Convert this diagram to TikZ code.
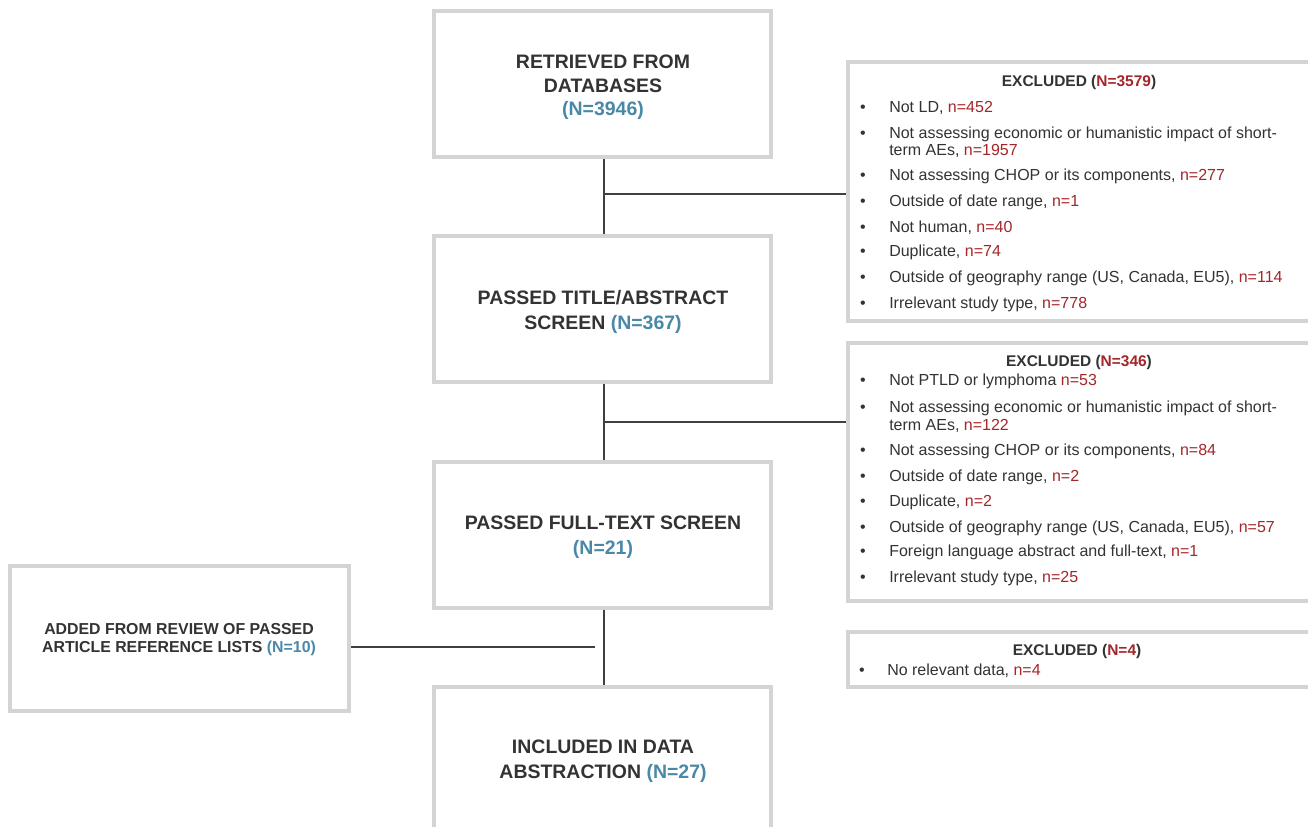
\documentclass[tikz,border=0pt]{standalone}
\usepackage{fontspec}
\setmainfont{Liberation Sans}
\definecolor{txt}{HTML}{333333}
\definecolor{nblue}{HTML}{4A88A8}
\definecolor{nred}{HTML}{A3262A}
\definecolor{boxgray}{HTML}{D4D4D4}
\definecolor{linecol}{HTML}{404040}
\newcommand\NBlue[1]{\textcolor{nblue}{#1}}
\newcommand\NRed[1]{\textcolor{nred}{#1}}
\begin{document}
\begin{tikzpicture}[x=0.75pt,y=-0.75pt,
  mainbox/.style={draw=boxgray, line width=3pt, fill=white, inner sep=0pt, minimum width=252.75pt, minimum height=109.5pt},
  exbox/.style={draw=boxgray, line width=3pt, fill=white, inner sep=0pt, minimum width=346.5pt},
  conn/.style={draw=linecol, line width=1.4pt},
  maintxt/.style={anchor=base, text=txt, font=\fontsize{14.6}{17}\selectfont\bfseries, inner sep=0pt},
  addtxt/.style={anchor=base, text=txt, font=\fontsize{11.9}{13}\selectfont\bfseries, inner sep=0pt},
  extitle/.style={anchor=base, text=txt, font=\fontsize{11.6}{13}\selectfont\bfseries, inner sep=0pt},
  item/.style={anchor=base west, text=txt, font=\fontsize{12}{13}\selectfont, inner sep=0pt},
  bul/.style={anchor=base, text=txt, font=\fontsize{12}{13}\selectfont, inner sep=0pt}
]
\useasboundingbox (0,0) rectangle (1308,826);

% main boxes
\node[mainbox] (b1) at (602.5,84) {};
\node[mainbox] (b2) at (602.5,308.5) {};
\node[mainbox] (b3) at (602.5,534.5) {};
\node[mainbox] (b4) at (602.5,760) {};
\node[draw=boxgray, line width=3pt, fill=white, inner sep=0pt, minimum width=254.25pt, minimum height=108.75pt] (add) at (179.5,638.5) {};

% exclusion boxes
\node[exbox, minimum height=194.25pt] (ex1) at (1079,191.5) {};
\node[exbox, minimum height=193.5pt] (ex2) at (1079,472) {};
\node[exbox, minimum height=41.25pt] (ex3) at (1079,659.5) {};

% connectors
\coordinate (j1) at (604,194);
\coordinate (j2) at (604,422);
\coordinate (j3) at (595,647);
\draw[conn] (b1.south -| j1) -- (b2.north -| j1);
\draw[conn] (b2.south -| j1) -- (b3.north -| j1);
\draw[conn] (b3.south -| j1) -- (b4.north -| j1);
\draw[conn] (j1) -- (j1 -| ex1.west);
\draw[conn] (j2) -- (j2 -| ex2.west);
\draw[conn] (j3 -| add.east) -- (j3);

% main texts
\node[maintxt] (t1a) at (603,68) {RETRIEVED FROM};
\node[maintxt] (t1b) at (603,92) {DATABASES};
\node[maintxt] (t1c) at (603,115) {\NBlue{(N=3946)}};
\node[maintxt] (t2a) at (603,304) {PASSED TITLE/ABSTRACT};
\node[maintxt] (t2b) at (603,329) {SCREEN \NBlue{(N=367)}};
\node[maintxt] (t3a) at (603,529) {PASSED FULL-TEXT SCREEN};
\node[maintxt] (t3b) at (603,554) {\NBlue{(N=21)}};
\node[maintxt] (t4a) at (603,753) {INCLUDED IN DATA};
\node[maintxt] (t4b) at (603,778) {ABSTRACTION \NBlue{(N=27)}};
\node[addtxt] (ta) at (179,634) {ADDED FROM REVIEW OF PASSED};
\node[addtxt] (tb) at (179,652.5) {ARTICLE REFERENCE LISTS \NBlue{(N=10)}};

% exclusion 1
\node[extitle] (x1t) at (1079,86) {EXCLUDED (\NRed{N=3579})};
\foreach \yy in {112,138,180,206,232,256,282,308}
  \node[bul] at (863,\yy) {•};
\node[item] (x1a) at (889,112) {Not LD, \NRed{n=452}};
\node[item] (x1b) at (889,138) {Not assessing economic or humanistic impact of short-};
\node[item] (x1c) at (889,155) {term AEs, \NRed{n=1957}};
\node[item] (x1d) at (889,180) {Not assessing CHOP or its components, \NRed{n=277}};
\node[item] (x1e) at (889,206) {Outside of date range, \NRed{n=1}};
\node[item] (x1f) at (889,232) {Not human, \NRed{n=40}};
\node[item] (x1g) at (889,256) {Duplicate, \NRed{n=74}};
\node[item] (x1h) at (889,282) {Outside of geography range (US, Canada, EU5), \NRed{n=114}};
\node[item] (x1i) at (889,308) {Irrelevant study type, \NRed{n=778}};

% exclusion 2
\node[extitle] (x2t) at (1079,366) {EXCLUDED (\NRed{N=346})};
\foreach \yy in {385,412,455,481,506,532,556,582}
  \node[bul] at (863,\yy) {•};
\node[item] (x2a) at (889,385) {Not PTLD or lymphoma \NRed{n=53}};
\node[item] (x2b) at (889,412) {Not assessing economic or humanistic impact of short-};
\node[item] (x2c) at (889,430) {term AEs, \NRed{n=122}};
\node[item] (x2d) at (889,455) {Not assessing CHOP or its components, \NRed{n=84}};
\node[item] (x2e) at (889,481) {Outside of date range, \NRed{n=2}};
\node[item] (x2f) at (889,506) {Duplicate, \NRed{n=2}};
\node[item] (x2g) at (889,532) {Outside of geography range (US, Canada, EU5), \NRed{n=57}};
\node[item] (x2h) at (889,556) {Foreign language abstract and full-text, \NRed{n=1}};
\node[item] (x2i) at (889,582) {Irrelevant study type, \NRed{n=25}};

% exclusion 3
\node[extitle] (x3t) at (1077,655) {EXCLUDED (\NRed{N=4})};
\node[bul] at (862,675) {•};
\node[item] (x3a) at (887,675) {No relevant data, \NRed{n=4}};
\end{tikzpicture}
\end{document}
